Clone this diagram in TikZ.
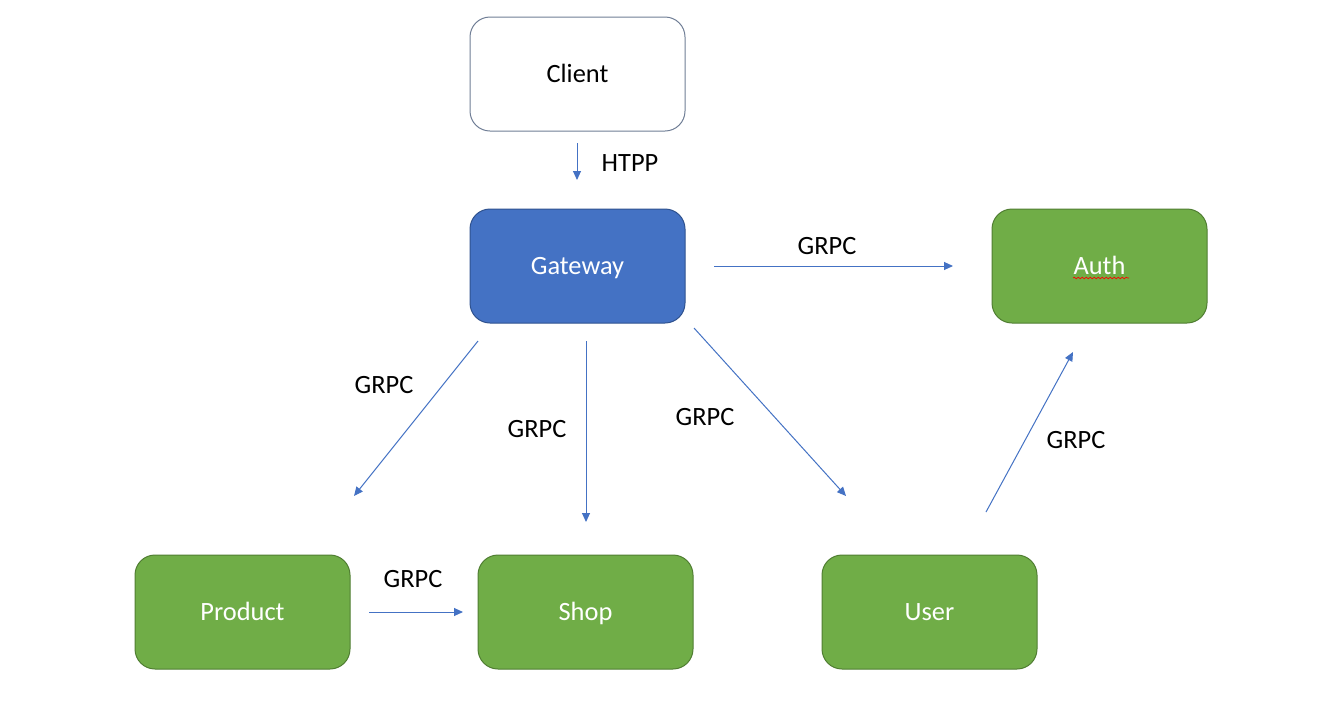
\documentclass[tikz,border=0pt]{standalone}
\usepackage{fontspec}
\setmainfont{Carlito}
\usetikzlibrary{arrows.meta,decorations.pathmorphing}

\begin{document}
\begin{tikzpicture}[x=0.75pt,y=0.75pt,yscale=-1,xscale=1,
  svcbox/.style={line width=0.75pt,rounded corners=15pt,minimum width=161.25pt,minimum height=85.5pt,inner sep=0pt,text height=12.75pt,text depth=0pt,font=\fontsize{19.8}{24}\selectfont},
  clientbox/.style={svcbox,draw={rgb, 255:red, 112; green, 126; blue, 150 },fill=white,text=black},
  gatebox/.style={svcbox,draw={rgb, 255:red, 47; green, 82; blue, 143 },fill={rgb, 255:red, 68; green, 114; blue, 196 },text=white},
  greenbox/.style={svcbox,draw={rgb, 255:red, 80; green, 126; blue, 50 },fill={rgb, 255:red, 112; green, 173; blue, 71 },text=white},
  lbl/.style={inner sep=0pt,font=\fontsize{19.8}{24}\selectfont},
  flow/.style={draw={rgb, 255:red, 68; green, 114; blue, 196 },line width=0.75pt,-{Triangle[length=6.75pt,width=6pt]}}]
\useasboundingbox[fill=white] (0,0) rectangle (1327,722);

%Shape: Rounded Rect
\node [clientbox] (client) at (577.5,74) {Client};
\node [gatebox] (gateway) at (577.5,266) {Gateway};
\node [greenbox] (auth) at (1099.5,266) {Auth};
\node [greenbox] (product) at (242.5,612) {Product};
\node [greenbox] (shop) at (585.5,612) {Shop};
\node [greenbox] (user) at (929.5,612) {User};

%spell check mark under Auth
\draw [color=red,line width=0.5pt,decorate,decoration={snake,segment length=3pt,amplitude=0.6pt}] (1073,278) -- (1129,278) ;

%Arrow ends
\coordinate (cliOut) at (577,143);
\coordinate (gateIn) at (577,180);
\coordinate (gateAuthOut) at (714,266);
\coordinate (authIn) at (953,266);
\coordinate (gateProdOut) at (478,341);
\coordinate (prodIn) at (354,496);
\coordinate (gateShopOut) at (586,341);
\coordinate (shopIn) at (586,522);
\coordinate (gateUserOut) at (694,328);
\coordinate (userIn) at (846,496);
\coordinate (prodOut) at (369,612);
\coordinate (shopSideIn) at (463,612);
\coordinate (userOut) at (986,512);
\coordinate (authLowIn) at (1073,352);

%Straight Lines
\draw [flow] (cliOut) -- (gateIn) ;
\draw [flow] (gateAuthOut) -- (authIn) ;
\draw [flow] (gateProdOut) -- (prodIn) ;
\draw [flow] (gateShopOut) -- (shopIn) ;
\draw [flow] (gateUserOut) -- (userIn) ;
\draw [flow] (prodOut) -- (shopSideIn) ;
\draw [flow] (userOut) -- (authLowIn) ;

% Text Node
\node [lbl] (tHttp) at (630,163) {HTPP};
\node [lbl] (tAuth) at (827,246) {GRPC};
\node [lbl] (tProd) at (384,385) {GRPC};
\node [lbl] (tShop) at (537,429) {GRPC};
\node [lbl] (tUser) at (705,417) {GRPC};
\node [lbl] (tSide) at (413,579) {GRPC};
\node [lbl] (tUA) at (1076,440) {GRPC};

\end{tikzpicture}
\end{document}
